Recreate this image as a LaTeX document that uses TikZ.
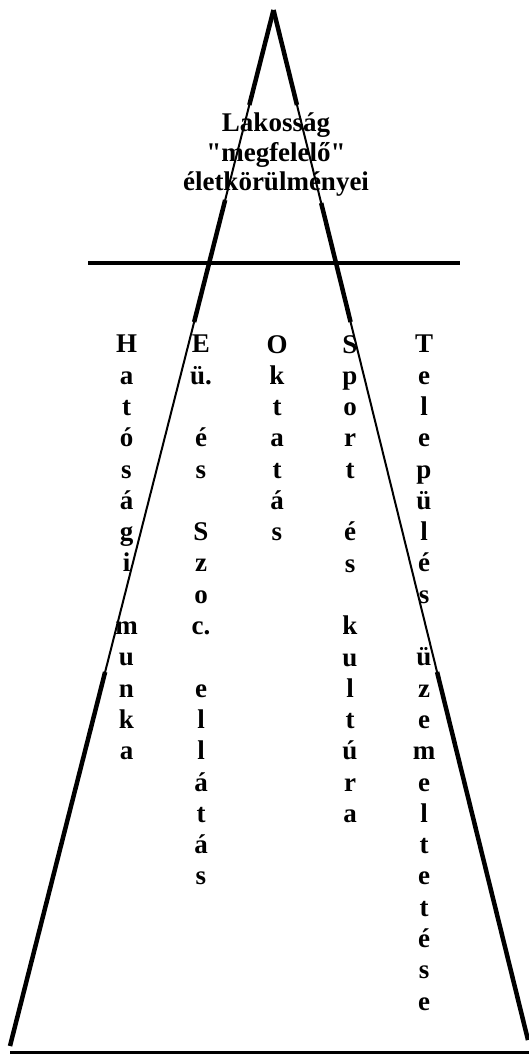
\documentclass[tikz,border=0pt]{standalone}
\usepackage{fontspec}
\setmainfont{Liberation Serif}[Ligatures=TeXOff]
\usetikzlibrary{calc}

\tikzset{
  thickside/.style={line width=4.5pt},
  thinside/.style={line width=2pt},
  column/.style={anchor=north,font=\bfseries\fontsize{27}{31.3}\selectfont}
}

\begin{document}
\begin{tikzpicture}[x=1pt,y=-1pt,every node/.style={inner sep=0pt,align=center}]
\useasboundingbox (0,0) rectangle (529,1055);
\coordinate (apex) at (273.5,10);
\coordinate (footL) at (10,1046);
\coordinate (footR) at (528,1040);
\foreach \a/\b/\s in {0/0.0917/thickside, 0.0917/0.1834/thinside, 0.1834/0.3012/thickside, 0.3012/0.639/thinside, 0.639/1/thickside}
  \draw[\s] ($(apex)!\a!(footL)$) -- ($(apex)!\b!(footL)$);
\foreach \a/\b/\s in {0/0.0922/thickside, 0.0922/0.1874/thinside, 0.1874/0.3029/thickside, 0.3029/0.6427/thinside, 0.6427/1/thickside}
  \draw[\s] ($(apex)!\a!(footR)$) -- ($(apex)!\b!(footR)$);
\coordinate (baseL) at (10,1052.5);
\coordinate (baseR) at (529,1052.5);
\draw[line width=3pt] (baseL) -- (baseR);
\coordinate (barL) at (88,263);
\coordinate (barR) at (460,263);
\draw[line width=4pt] (barL) -- (barR);
\node[anchor=north,font=\bfseries\fontsize{27}{29.5}\selectfont] (lakossag) at (276,113)
  {Lakosság\\"megfelelő"\\életkörülményei};
\node[column] (hatosagi) at (126.5,335) {H\\a\\t\\ó\\s\\á\\g\\i\\~\\m\\u\\n\\k\\a};
\node[column] (eu) at (201,335) {E\\ü.\\~\\é\\s\\~\\S\\z\\o\\c.\\~\\e\\l\\l\\á\\t\\á\\s};
\node[column] (oktatas) at (277,335) {O\\k\\t\\a\\t\\á\\s};
\node[column] (sport) at (350,335) {S\\p\\o\\r\\t\\~\\é\\s\\~\\k\\u\\l\\t\\ú\\r\\a};
\node[column] (telepules) at (424,335) {T\\e\\l\\e\\p\\ü\\l\\é\\s\\~\\ü\\z\\e\\m\\e\\l\\t\\e\\t\\é\\s\\e};
\end{tikzpicture}
\end{document}
